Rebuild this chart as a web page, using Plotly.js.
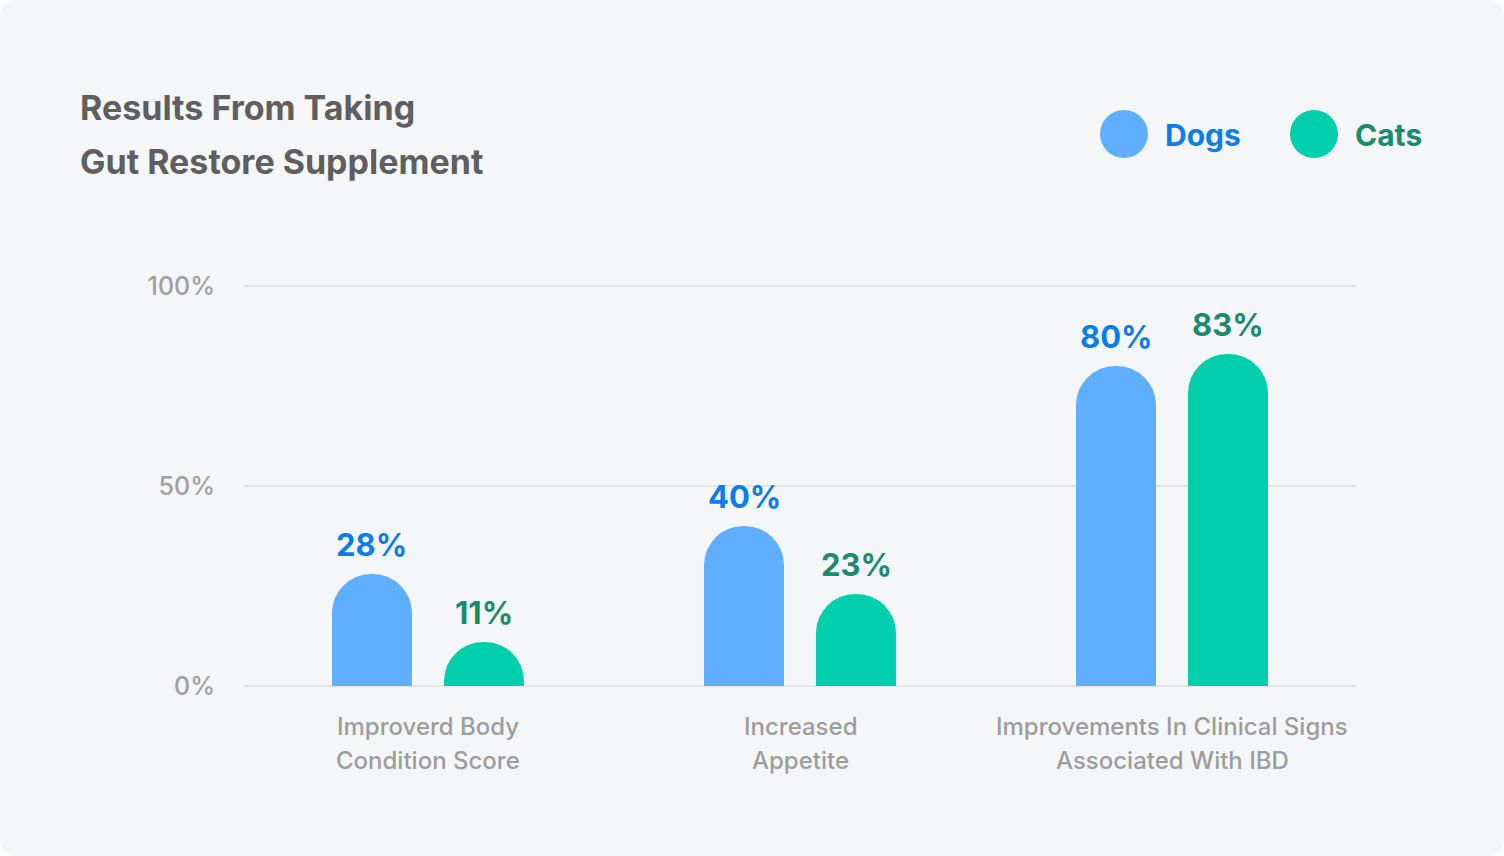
<!DOCTYPE html>
<html>
<head>
<meta charset="utf-8">
<script src="https://cdn.plot.ly/plotly-3.0.1.min.js"></script>
<style>
  html, body { margin: 0; padding: 0; background: #ffffff; }
  #card { width: 1504px; height: 856px; background: #f5f6f8; border-radius: 16px; overflow: hidden; }
</style>
</head>
<body>
<div id="card"></div>
<script>
// ---- data ----
const categoryLine1 = ["Improverd Body", "Increased", "Improvements In Clinical Signs"];
const categoryLine2 = ["Condition Score", "Appetite", "Associated With IBD"];
const dogs = [28, 40, 80];
const cats = [11, 23, 83];
const seriesNames = ["Dogs", "Cats"];
const yTickVals = [0, 50, 100];
const yTickText = ["0%", "50%", "100%"];
const titleLines = ["Results From Taking", "Gut Restore Supplement"];

// ---- styling ----
const W = 1504, H = 856;
const yMin = -1, yMax = 101;
const plotL = 244, plotR = 1356, plotT = 282, plotB = 690;
const px = x => (x - plotL) / (plotR - plotL);
const py = y => (plotB - y) / (plotB - plotT);
const dogBar = "#60aefe", catBar = "#00cfae";
const dogText = "#0a7de8", catText = "#1b8b6f";
const font = "Inter, 'Noto Sans', sans-serif";
const catIdx = [0, 1, 2];
const barShift = 56;

const traces = [
  { type: "bar", name: seriesNames[0], x: catIdx, y: dogs, marker: { color: dogBar, cornerradius: 40 }, hoverinfo: "skip" },
  { type: "bar", name: seriesNames[1], x: catIdx, y: cats, marker: { color: catBar, cornerradius: 40 }, hoverinfo: "skip" }
];

const annotations = [];
catIdx.forEach((c, i) => {
  annotations.push({ xref: "x", yref: "y", x: c, y: dogs[i], text: dogs[i] + "%", showarrow: false,
    xshift: -barShift, yshift: 30, yanchor: "middle",
    font: { family: font, size: 31, color: dogText, weight: 700 } });
  annotations.push({ xref: "x", yref: "y", x: c, y: cats[i], text: cats[i] + "%", showarrow: false,
    xshift: barShift, yshift: 30, yanchor: "middle",
    font: { family: font, size: 31, color: catText, weight: 700 } });
  // category labels (two lines)
  annotations.push({ xref: "x", yref: "paper", x: c, y: py(726), text: categoryLine1[i], showarrow: false,
    yanchor: "middle", font: { family: font, size: 24, color: "#9d9d9d", weight: 500 } });
  annotations.push({ xref: "x", yref: "paper", x: c, y: py(760), text: categoryLine2[i], showarrow: false,
    yanchor: "middle", font: { family: font, size: 24, color: "#9d9d9d", weight: 500 } });
});
// title
titleLines.forEach((t, i) => {
  annotations.push({ xref: "paper", yref: "paper", x: px(78), y: py(108 + i * 54), xanchor: "left", yanchor: "middle",
    text: t, showarrow: false, font: { family: font, size: 34, color: "#5f5f5f", weight: 700 } });
});
// legend
const legendItems = [
  { name: seriesNames[0], cx: 1124, tx: 1163, fill: dogBar, color: dogText },
  { name: seriesNames[1], cx: 1314, tx: 1353, fill: catBar, color: catText }
];
const shapes = [];
legendItems.forEach(it => {
  shapes.push({ type: "circle", xref: "paper", yref: "paper", x0: px(it.cx - 24), x1: px(it.cx + 24),
    y0: py(158), y1: py(110), fillcolor: it.fill, line: { width: 0 } });
  annotations.push({ xref: "paper", yref: "paper", x: px(it.tx), y: py(135), xanchor: "left", yanchor: "middle",
    text: it.name, showarrow: false, font: { family: font, size: 30, color: it.color, weight: 700 } });
});

const layout = {
  width: W, height: H,
  margin: { l: plotL, r: W - plotR, t: plotT, b: H - plotB, pad: 0 },
  paper_bgcolor: "rgba(0,0,0,0)", plot_bgcolor: "rgba(0,0,0,0)",
  showlegend: false,
  barmode: "group", bargap: 0.398, bargroupgap: 0.2857,
  xaxis: {
    range: [-0.4946, 2.4946], tickvals: catIdx, showticklabels: false,
    showgrid: false, zeroline: false, showline: false, ticks: "", fixedrange: true
  },
  yaxis: {
    range: [yMin, yMax], tickvals: yTickVals, ticktext: yTickText,
    showgrid: true, gridcolor: "#e4e5e9", gridwidth: 2, zeroline: false, showline: false, ticks: "",
    tickfont: { family: font, size: 25, color: "#a0a0a0", weight: 500 }, ticklabelstandoff: 28, fixedrange: true
  },
  annotations: annotations,
  shapes: shapes,
  font: { family: font }
};

Plotly.newPlot("card", traces, layout, { displayModeBar: false, staticPlot: true });
</script>
</body>
</html>
